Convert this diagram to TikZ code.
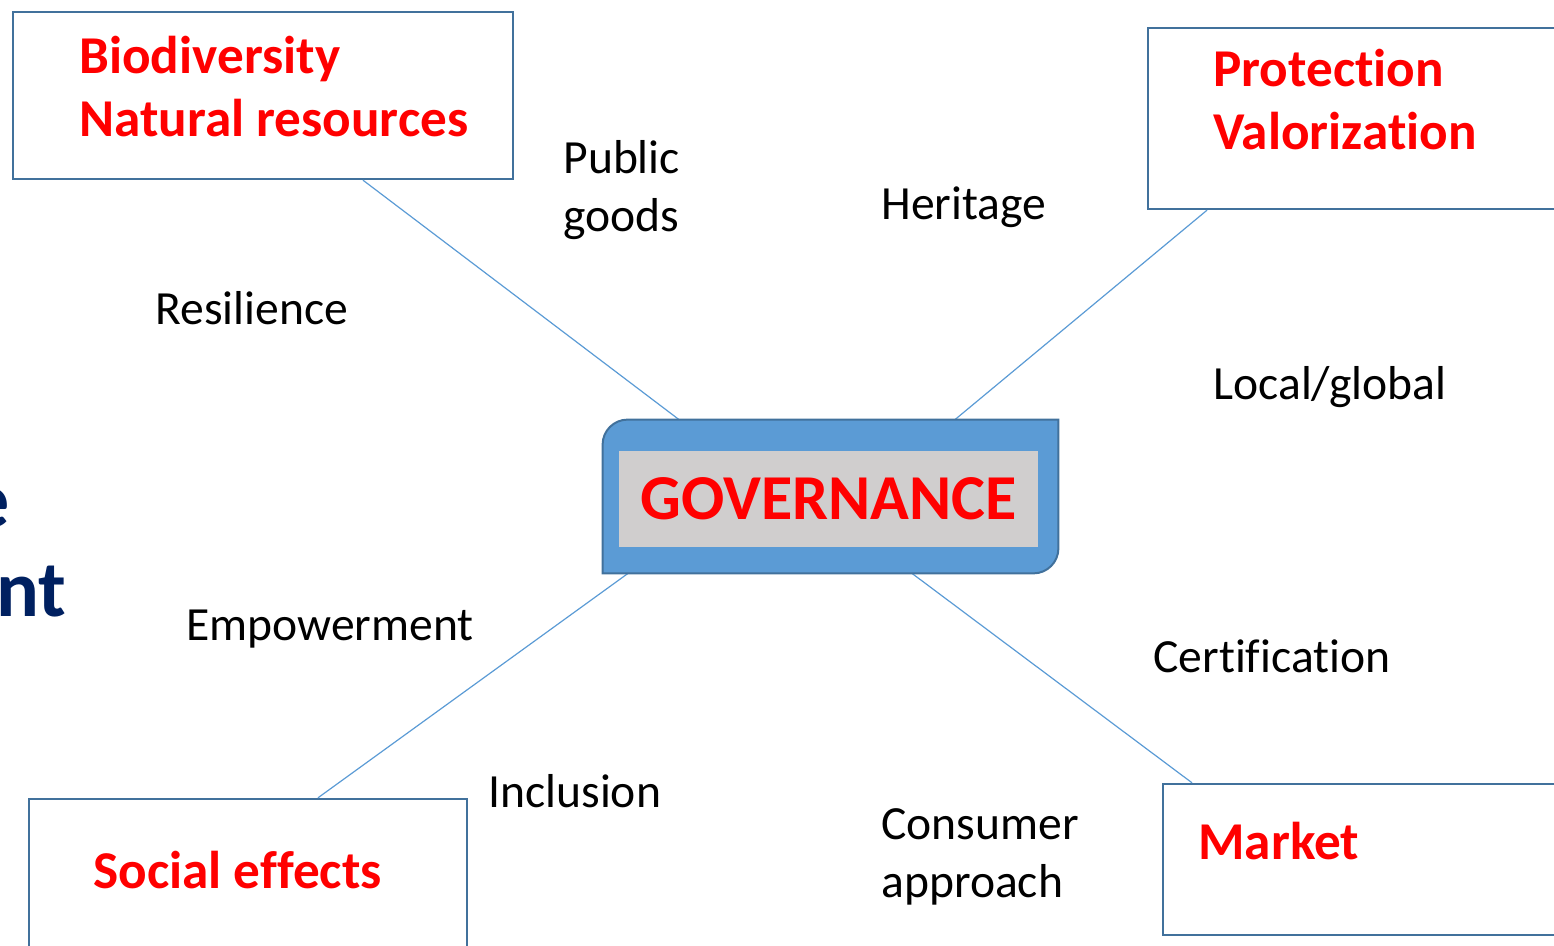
\documentclass[tikz,border=0pt]{standalone}
\usepackage{fontspec}
\setmainfont{Carlito}[Ligatures=NoCommon]
\definecolor{boxblue}{HTML}{41719C}
\definecolor{lineblue}{HTML}{5B9BD5}
\definecolor{govgrey}{HTML}{D0CECE}
\definecolor{navy}{HTML}{002060}

\begin{document}
\begin{tikzpicture}[x=0.5pt, y=-0.5pt,
    box/.style={draw=boxblue, line width=1.2pt, inner sep=0pt},
    title/.style={text=red, font=\bfseries\fontsize{26.6}{31.5}\selectfont, anchor=base west, inner sep=0pt, align=left},
    lbl/.style={font=\fontsize{23.8}{29}\selectfont, anchor=base west, inner sep=0pt, align=left},
    link/.style={draw=lineblue, line width=0.6pt}]
        \useasboundingbox (0,0) rectangle (1554,946);
        % boxes
        \node (bio) at (263,95.5) [box, minimum width=250pt, minimum height=83.5pt] {};
        \node (prot) at (1384,118.5) [box, minimum width=236pt, minimum height=90.5pt] {};
        \node (soc) at (248,899.5) [box, minimum width=219pt, minimum height=100.5pt] {};
        \node (mkt) at (1391.5,859.5) [box, minimum width=228.5pt, minimum height=75.5pt] {};
        \node (gov) at (830.5,496.5) [minimum width=227.5pt, minimum height=76.5pt, inner sep=0pt] {};
        % links
        \draw[link] ([xshift=50pt]bio.south) -- ([xshift=-75.75pt]gov.north);
        \draw[link] ([xshift=-88.5pt]prot.south) -- ([xshift=62.25pt]gov.north);
        \draw[link] ([xshift=35pt]soc.north) -- ([xshift=-101.25pt]gov.south);
        \draw[link] ([xshift=-99.75pt]mkt.north) -- ([xshift=40.75pt]gov.south);
        % governance frame
        \filldraw[fill=lineblue, draw=boxblue, line width=1pt] (gov.south west)
            -- ([yshift=-12.5pt]gov.north west) arc[start angle=180, end angle=90, radius=12.5pt]
            -- (gov.north east) -- ([yshift=12.5pt]gov.south east) arc[start angle=0, end angle=-90, radius=12.5pt]
            -- cycle;
        \node (govtxt) at (828.5,499) [fill=govgrey, minimum width=209.5pt, minimum height=48pt, inner sep=0pt,
            text=red, font=\bfseries\fontsize{32}{36}\selectfont] {GOVERNANCE};
        % titles (base = last line)
        \node (biotxt) at (79,137) [title] {Biodiversity\\Natural resources};
        \node (prottxt) at (1213,150) [title] {Protection\\Valorization};
        \node (soctxt) at (93,888) [title] {Social effects};
        \node (mkttxt) at (1198,859) [title] {Market};
        % labels
        \node (pub) at (563,232) [lbl] {Public\\goods};
        \node (her) at (881,220) [lbl] {Heritage};
        \node (res) at (155,325) [lbl] {Resilience};
        \node (loc) at (1213,400) [lbl] {Local/global};
        \node (emp) at (186,640) [lbl] {Empowerment};
        \node (cert) at (1153,672) [lbl] {Certification};
        \node (inc) at (488,807) [lbl] {Inclusion};
        \node (cons) at (881,897) [lbl] {Consumer\\approach};
        % cut-off text at the left edge
        \node (frag1) at (10,528) [anchor=base east, inner sep=0pt, text=navy, font=\bfseries\fontsize{40}{44}\selectfont] {e};
        \node (frag2) at (67,617) [anchor=base east, inner sep=0pt, text=navy, font=\bfseries\fontsize{40}{44}\selectfont] {nt};
\end{tikzpicture}
\end{document}
